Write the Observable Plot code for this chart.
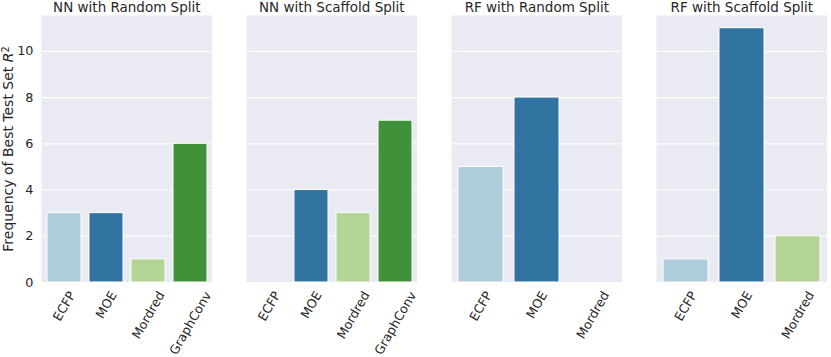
<!DOCTYPE html>
<html><head><meta charset="utf-8">
<script src="https://cdn.jsdelivr.net/npm/d3@7"></script>
<script src="https://cdn.jsdelivr.net/npm/@observablehq/plot@0.6"></script>
<style>
body{margin:0;background:#fff}
#c{position:relative;width:831px;height:357px;font-family:"DejaVu Sans";overflow:hidden}
#c svg{position:absolute;top:0;overflow:visible}
</style>
</head><body><div id="c"></div>
<script>
// ---- data ----
const panelTitles = ["NN with Random Split", "NN with Scaffold Split", "RF with Random Split", "RF with Scaffold Split"];
const featuresNN = ["ECFP", "MOE", "Mordred", "GraphConv"];
const featuresRF = ["ECFP", "MOE", "Mordred"];
const countsNNRandom = [3, 3, 1, 6];
const countsNNScaffold = [0, 4, 3, 7];
const countsRFRandom = [5, 8, 0];
const countsRFScaffold = [1, 11, 2];
const colorDomain = ["ECFP", "MOE", "Mordred", "GraphConv"];
const colorRange = ["#aeccdb", "#3274a1", "#b3d495", "#40923a"];
const yTicks = [0, 2, 4, 6, 8, 10];
const yMax = 11.55;
const yLabel = "Frequency of Best Test Set ";

const panelFeatures = [featuresNN, featuresNN, featuresRF, featuresRF];
const panelCounts = [countsNNRandom, countsNNScaffold, countsRFRandom, countsRFScaffold];

// ---- layout ----
const panelLefts = [41, 246, 451, 656];
const panelWidth = 170.6;
const xFont = 12.6;
const container = document.getElementById("c");
const ctx = document.createElement("canvas").getContext("2d");
ctx.font = `${xFont}px "DejaVu Sans"`;
const sin60 = Math.sin(Math.PI / 3);

panelTitles.forEach((title, i) => {
  const rows = panelFeatures[i].map((f, j) => ({feature: f, count: panelCounts[i][j]}));
  const ml = i === 0 ? 41 : 10;
  const mr = 4;
  // rotated tick labels, centred under each band like matplotlib (rotated box centred, top just below axis)
  const xLabels = panelFeatures[i].map(f => {
    const L = ctx.measureText(f).width;
    return Plot.text([f], {x: d => d, frameAnchor: "bottom", rotate: -60, textAnchor: "middle", lineAnchor: "middle",
      dy: 7.5 + 0.5 * L * sin60 + 0.21 * xFont, fontSize: xFont, fill: "#262626"});
  });
  const chart = Plot.plot({
    width: ml + panelWidth + mr,
    height: 357,
    marginLeft: ml,
    marginRight: mr,
    marginTop: 15,
    marginBottom: 75,
    style: {fontFamily: "DejaVu Sans", fontSize: "12.8px", color: "#262626", background: "transparent", overflow: "visible"},
    x: {domain: panelFeatures[i], paddingInner: 0.2, paddingOuter: 0.1, align: 0.5, axis: null},
    y: {domain: [0, yMax], ticks: yTicks, tickSize: 0, tickPadding: 8, label: null,
        axis: i === 0 ? "left" : null},
    color: {domain: colorDomain, range: colorRange},
    marks: [
      Plot.frame({fill: "#eaeaf2", stroke: null}),
      Plot.ruleY(yTicks, {stroke: "white", strokeWidth: 1.2}),
      Plot.barY(rows, {x: "feature", y: "count", fill: "feature", stroke: "white", strokeWidth: 1}),
      ...xLabels,
      Plot.text([title], {frameAnchor: "top", dy: -3, lineAnchor: "bottom", fontSize: 13.5, fill: "#262626"}),
      ...(i === 0 ? [Plot.text([yLabel], {frameAnchor: "left", dx: -33, rotate: -90, textAnchor: "middle", lineAnchor: "middle", fontSize: 14, fill: "#262626"})] : [])
    ]
  });
  chart.style.left = (panelLefts[i] - ml) + "px";
  container.appendChild(chart);
  if (i === 0) {
    d3.select(chart).selectAll("text").filter(function() { return this.textContent === yLabel; })
      .each(function() {
        const t = d3.select(this);
        t.append("tspan").attr("font-style", "italic").text("R");
        t.append("tspan").attr("font-size", "0.7em").attr("dy", "-0.45em").text("2");
      });
  }
});
</script>
</body></html>
